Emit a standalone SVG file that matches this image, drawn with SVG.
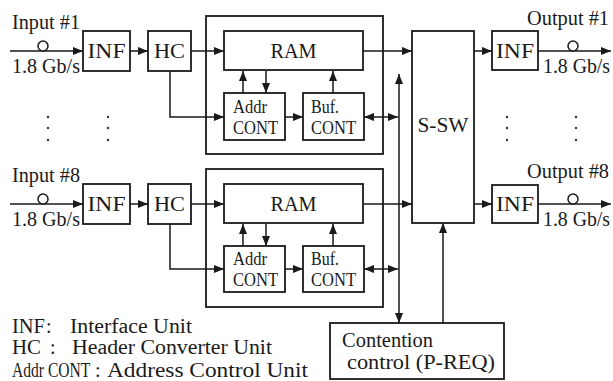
<svg xmlns="http://www.w3.org/2000/svg" width="613" height="381" viewBox="0 0 613 381">
<style>
.box{fill:none;stroke:#1a1a1a;stroke-width:1.8}
.ln{fill:none;stroke:#1a1a1a;stroke-width:1.5}
.ar{marker-end:url(#ah)}
.da{marker-end:url(#ah);marker-start:url(#ah)}
text{font-size:20px;fill:#1a1a1a}
.s{font-size:18px}
.c{text-anchor:middle}
.dot{fill:#333}
.circ{fill:#fff;stroke:#1a1a1a;stroke-width:1.5}
</style>
<defs>
<marker id="ah" markerUnits="userSpaceOnUse" markerWidth="10" markerHeight="8" refX="10" refY="4" orient="auto-start-reverse">
<path d="M0,0 L10,4 L0,8 z" fill="#1a1a1a"/>
</marker>
</defs>
<rect width="613" height="381" fill="#fff"/>

<g id="connectors">
<line class="ln ar" x1="10" y1="51" x2="83" y2="51"/>
<line class="ln ar" x1="130" y1="51" x2="148" y2="51"/>
<line class="ln ar" x1="191" y1="51" x2="224" y2="51"/>
<polyline class="ln ar" points="170,71 170,117 224,117"/>
<line class="ln ar" x1="243" y1="93" x2="243" y2="71"/>
<line class="ln ar" x1="266" y1="71" x2="266" y2="93"/>
<line class="ln ar" x1="285" y1="117" x2="303" y2="117"/>
<line class="ln ar" x1="333" y1="93" x2="333" y2="71"/>
<line class="ln da" x1="364" y1="117" x2="398" y2="117"/>
<line class="ln ar" x1="363" y1="51" x2="412" y2="51"/>
<line class="ln ar" x1="474" y1="51" x2="492" y2="51"/>
<line class="ln ar" x1="538" y1="51" x2="611" y2="51"/>
<line class="ln ar" x1="10" y1="204" x2="83" y2="204"/>
<line class="ln ar" x1="130" y1="204" x2="148" y2="204"/>
<line class="ln ar" x1="191" y1="204" x2="224" y2="204"/>
<polyline class="ln ar" points="170,224 170,269 224,269"/>
<line class="ln ar" x1="243" y1="246" x2="243" y2="224"/>
<line class="ln ar" x1="266" y1="224" x2="266" y2="246"/>
<line class="ln ar" x1="285" y1="269" x2="303" y2="269"/>
<line class="ln ar" x1="333" y1="246" x2="333" y2="224"/>
<line class="ln da" x1="364" y1="269" x2="398" y2="269"/>
<line class="ln ar" x1="363" y1="204" x2="412" y2="204"/>
<line class="ln ar" x1="474" y1="204" x2="492" y2="204"/>
<line class="ln ar" x1="538" y1="204" x2="611" y2="204"/>
<line class="ln da" x1="399" y1="74" x2="399" y2="323"/>
<line class="ln ar" x1="443" y1="323" x2="443" y2="223"/>
</g>

<g id="fibers">
<circle class="circ" cx="43" cy="46" r="5"/>
<circle class="circ" cx="573" cy="46" r="5"/>
<circle class="circ" cx="43" cy="199" r="5"/>
<circle class="circ" cx="573" cy="199" r="5"/>
</g>

<g id="dots">
<circle class="dot" cx="48" cy="117" r="1.2"/><circle class="dot" cx="48" cy="128" r="1.2"/><circle class="dot" cx="48" cy="140" r="1.2"/>
<circle class="dot" cx="108" cy="117" r="1.2"/><circle class="dot" cx="108" cy="128" r="1.2"/><circle class="dot" cx="108" cy="140" r="1.2"/>
<circle class="dot" cx="507" cy="117" r="1.2"/><circle class="dot" cx="507" cy="128" r="1.2"/><circle class="dot" cx="507" cy="140" r="1.2"/>
<circle class="dot" cx="576" cy="117" r="1.2"/><circle class="dot" cx="576" cy="128" r="1.2"/><circle class="dot" cx="576" cy="140" r="1.2"/>
</g>

<g font-family="'Liberation Serif', 'DejaVu Serif', serif">
<g id="labels">
<text x="12" y="29" textLength="68" lengthAdjust="spacingAndGlyphs">Input #1</text>
<text x="12" y="73" textLength="68" lengthAdjust="spacingAndGlyphs">1.8 Gb/s</text>
<text x="12" y="182" textLength="68" lengthAdjust="spacingAndGlyphs">Input #8</text>
<text x="12" y="226" textLength="68" lengthAdjust="spacingAndGlyphs">1.8 Gb/s</text>
<text x="527" y="25" textLength="82" lengthAdjust="spacingAndGlyphs">Output #1</text>
<text x="543" y="73" textLength="67" lengthAdjust="spacingAndGlyphs">1.8 Gb/s</text>
<text x="527" y="178" textLength="82" lengthAdjust="spacingAndGlyphs">Output #8</text>
<text x="543" y="226" textLength="67" lengthAdjust="spacingAndGlyphs">1.8 Gb/s</text>
</g>

<g id="inf-in-1"><rect class="box" x="83" y="31" width="47" height="40"/><text class="c" x="106.5" y="58" textLength="38" lengthAdjust="spacingAndGlyphs">INF</text></g>
<g id="hc-1"><rect class="box" x="148" y="31" width="43" height="40"/><text class="c" x="169.5" y="58" textLength="31" lengthAdjust="spacingAndGlyphs">HC</text></g>
<g id="buffer-1"><rect class="box" x="206" y="16" width="177" height="138"/></g>
<g id="ram-1"><rect class="box" x="224" y="31" width="139" height="39"/><text class="c" x="293.5" y="58" textLength="46" lengthAdjust="spacingAndGlyphs">RAM</text></g>
<g id="addr-1"><rect class="box" x="224" y="93" width="61" height="47"/><text class="s" x="233" y="113" textLength="34" lengthAdjust="spacingAndGlyphs">Addr</text><text class="s" x="233" y="134" textLength="45" lengthAdjust="spacingAndGlyphs">CONT</text></g>
<g id="buf-1"><rect class="box" x="303" y="93" width="61" height="47"/><text class="s" x="311" y="113" textLength="28" lengthAdjust="spacingAndGlyphs">Buf.</text><text class="s" x="311" y="134" textLength="45" lengthAdjust="spacingAndGlyphs">CONT</text></g>

<g id="inf-in-8"><rect class="box" x="83" y="184" width="47" height="40"/><text class="c" x="106.5" y="211" textLength="38" lengthAdjust="spacingAndGlyphs">INF</text></g>
<g id="hc-8"><rect class="box" x="148" y="184" width="43" height="40"/><text class="c" x="169.5" y="211" textLength="31" lengthAdjust="spacingAndGlyphs">HC</text></g>
<g id="buffer-8"><rect class="box" x="206" y="169" width="177" height="138"/></g>
<g id="ram-8"><rect class="box" x="224" y="184" width="139" height="39"/><text class="c" x="293.5" y="211" textLength="46" lengthAdjust="spacingAndGlyphs">RAM</text></g>
<g id="addr-8"><rect class="box" x="224" y="246" width="61" height="46"/><text class="s" x="233" y="265" textLength="34" lengthAdjust="spacingAndGlyphs">Addr</text><text class="s" x="233" y="286" textLength="45" lengthAdjust="spacingAndGlyphs">CONT</text></g>
<g id="buf-8"><rect class="box" x="303" y="246" width="61" height="46"/><text class="s" x="311" y="265" textLength="28" lengthAdjust="spacingAndGlyphs">Buf.</text><text class="s" x="311" y="286" textLength="45" lengthAdjust="spacingAndGlyphs">CONT</text></g>

<g id="s-sw"><rect class="box" x="412" y="31" width="62" height="192"/><text class="c" x="443" y="132" textLength="51" lengthAdjust="spacingAndGlyphs">S-SW</text></g>

<g id="inf-out-1"><rect class="box" x="492" y="31" width="46" height="39"/><text class="c" x="515" y="58" textLength="38" lengthAdjust="spacingAndGlyphs">INF</text></g>
<g id="inf-out-8"><rect class="box" x="492" y="185" width="46" height="38"/><text class="c" x="515" y="211" textLength="38" lengthAdjust="spacingAndGlyphs">INF</text></g>

<g id="contention"><rect class="box" x="330" y="323" width="174" height="56"/><text x="342" y="347" textLength="91" lengthAdjust="spacingAndGlyphs">Contention</text><text x="347" y="369" textLength="148" lengthAdjust="spacingAndGlyphs">control (P-REQ)</text></g>

<g id="legend">
<text x="12" y="333" textLength="33" lengthAdjust="spacingAndGlyphs">INF</text><text x="46" y="333">:</text><text x="70" y="333" textLength="122" lengthAdjust="spacingAndGlyphs">Interface Unit</text>
<text x="12" y="354" textLength="29" lengthAdjust="spacingAndGlyphs">HC</text><text x="50" y="354">:</text><text x="72" y="354" textLength="200" lengthAdjust="spacingAndGlyphs">Header Converter Unit</text>
<text transform="translate(12,377) scale(0.78,1)" x="0" y="0">Addr CONT</text><text x="95" y="377">:</text><text x="107" y="377" textLength="201" lengthAdjust="spacingAndGlyphs">Address Control Unit</text>
</g>
</g>
</svg>
